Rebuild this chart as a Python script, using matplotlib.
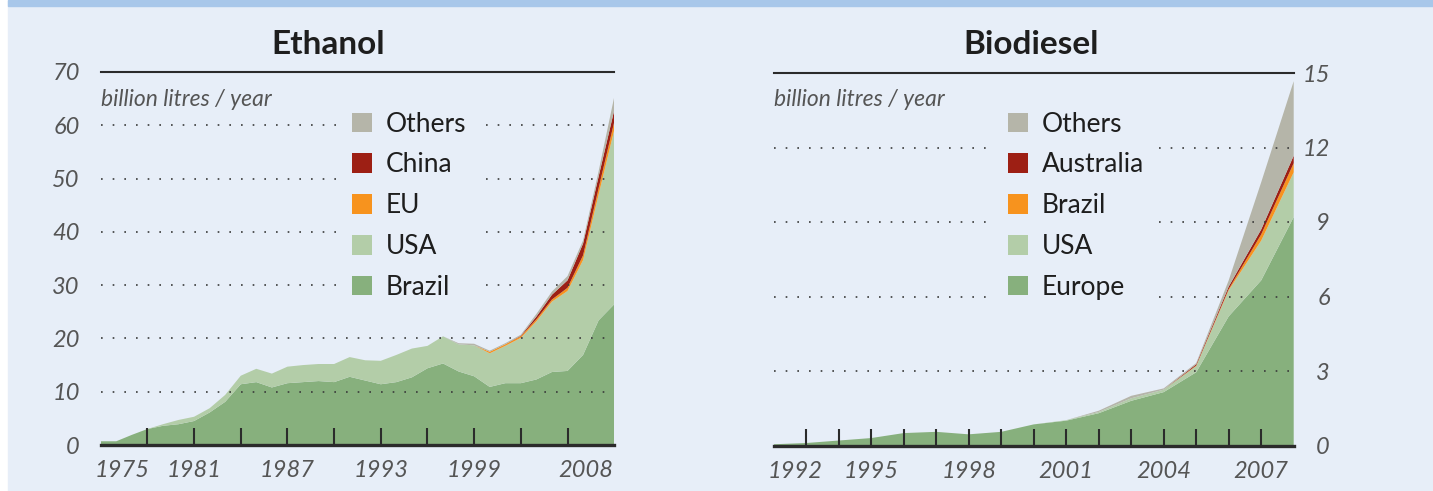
import numpy as np
import matplotlib.pyplot as plt
from matplotlib.patches import Rectangle, Patch

plt.rcParams['font.family'] = ['Lato', 'DejaVu Sans']

# ---- ethanol, billion litres / year ----
eth_years = list(range(1975, 2009))
eth_brazil = [0.7, 0.7, 1.9, 3.0, 3.6, 3.9, 4.5, 6.1, 8.1, 11.4, 11.8, 10.8, 11.6, 11.8, 12.0, 11.8, 12.8,
              12.1, 11.4, 11.8, 12.7, 14.4, 15.3, 13.8, 12.9, 10.9, 11.6, 11.6, 12.3, 13.7, 13.9, 16.9, 23.4, 26.4]
eth_usa = [0, 0, 0, 0, 0.3, 0.8, 0.8, 0.8, 1.3, 1.6, 2.5, 2.6, 3.1, 3.2, 3.2, 3.4, 3.7,
           3.8, 4.4, 5.1, 5.4, 4.2, 5.1, 5.1, 5.8, 6.3, 7.0, 8.5, 10.9, 13.2, 15.0, 17.8, 23.6, 32.7]
eth_eu = [0] * 25 + [0.3, 0.3, 0.3, 0.4, 0.4, 0.6, 0.9, 1.2, 1.5]
eth_china = [0] * 27 + [0.1, 0.5, 0.9, 1.4, 2.2, 2.2, 2.2]
eth_others = [0] * 23 + [0.2, 0.3, 0.2, 0.2, 0.2, 0.5, 0.6, 0.8, 0.6, 1.0, 2.5]
eth_labels = ['Brazil', 'USA', 'EU', 'China', 'Others']

# ---- biodiesel, billion litres / year ----
bio_years = list(range(1992, 2009))
bio_europe = [0.05, 0.1, 0.2, 0.3, 0.5, 0.55, 0.45, 0.55, 0.85, 1.0, 1.3, 1.8, 2.15, 2.95, 5.2, 6.65, 9.2]
bio_usa = [0] * 9 + [0.02, 0.05, 0.1, 0.1, 0.25, 1.05, 1.6, 1.8]
bio_brazil = [0] * 13 + [0.02, 0.05, 0.25, 0.37]
bio_australia = [0] * 13 + [0.05, 0.1, 0.2, 0.3]
bio_others = [0] * 10 + [0.05, 0.1, 0.05, 0.05, 0.25, 1.9, 3.0]
bio_labels = ['Europe', 'USA', 'Brazil', 'Australia', 'Others']

colors = ['#87b07d', '#b3cda8', '#f7931e', '#9d1f14', '#b5b5a9']
bg = '#e7eef8'
dark = '#2b2b2b'
grey_txt = '#555555'

W, H = 1433, 491
fig = plt.figure(figsize=(W / 100, H / 100), dpi=100)
fig.patch.set_facecolor('white')
fig.patches.append(Rectangle((8 / W, 0), 1, 1, transform=fig.transFigure, color=bg, zorder=-10))
fig.patches.append(Rectangle((8 / W, 1 - 6 / H), 1, 6 / H, transform=fig.transFigure,
                             color='#a8c7ea', zorder=-9))


def panel(rect, years, series, labels, ymax, ystep, xticks, xlabels, title, title_x,
          legend_x, right=False):
    ax = fig.add_axes(rect)
    ax.set_facecolor('none')
    ax.stackplot(years, *series, colors=colors, linewidth=0, zorder=1)
    ax.set_xlim(years[0], years[-1])
    ax.set_ylim(0, ymax)

    for s in ['left', 'right']:
        ax.spines[s].set_visible(False)
    ax.spines['bottom'].set_linewidth(2.4)
    ax.spines['bottom'].set_color(dark)
    ax.spines['top'].set_linewidth(1.5)
    ax.spines['top'].set_color(dark)

    # dotted grid above the areas, broken by the legend box
    for v in np.arange(ystep, ymax, ystep):
        ax.axhline(v, color='#3a3a3a', lw=1.2, linestyle=(0, (1, 6)), zorder=2)

    ax.set_xticks(xticks)
    ax.set_xticklabels([])
    ax.tick_params(axis='x', direction='in', length=12.5, width=1.5, color=dark)

    yt = np.arange(0, ymax + 0.1, ystep)
    ax.set_yticks(yt)
    ax.set_yticklabels([f'{v:g}' for v in yt], fontstyle='italic', fontsize=17, color=grey_txt)
    if right:
        ax.yaxis.tick_right()
        ax.tick_params(axis='y', length=0, pad=26)
        for t in ax.get_yticklabels():
            t.set_horizontalalignment('right')
    else:
        ax.tick_params(axis='y', length=0, pad=15)

    # year labels: end labels pinned to the axis ends, the rest centred on ticks
    for yr, lab in xlabels:
        if yr == years[0]:
            ha, dx = 'left', -4.5
        elif yr == years[-1]:
            ha, dx = 'right', -1
        else:
            ha, dx = 'center', 0
        ax.annotate(lab, (yr, 0), xytext=(dx, -11), textcoords='offset points',
                    ha=ha, va='top', fontsize=17, fontstyle='italic', color=grey_txt,
                    annotation_clip=False)

    fig.text(title_x / W, 1 - 44 / H, title, ha='center', va='center', fontsize=24,
             fontweight='bold', color='#1e1e1e')
    fig.text(rect[0], 1 - 99 / H, 'billion litres / year', ha='left', va='center',
             fontsize=16.5, fontstyle='italic', color=grey_txt)

    handles = [Patch(facecolor=c, edgecolor='none') for c in colors][::-1]
    leg = ax.legend(handles, labels[::-1], loc='upper left',
                    bbox_to_anchor=(legend_x / W, 1 - 97 / H), bbox_transform=fig.transFigure,
                    borderaxespad=0, frameon=True, fancybox=False, framealpha=1,
                    facecolor=bg, edgecolor='none', fontsize=19, handlelength=0.76,
                    handleheight=0.76, handletextpad=0.55, labelspacing=0.6, borderpad=0.55)
    for t in leg.get_texts():
        t.set_color('#1e1e1e')
    leg.set_zorder(5)
    return ax


panel([100.7 / W, 46 / H, 513.5 / W, 373 / H], eth_years,
      [eth_brazil, eth_usa, eth_eu, eth_china, eth_others], eth_labels, 70, 10,
      list(range(1978, 2006, 3)),
      [(1975, '1975'), (1981, '1981'), (1987, '1987'), (1993, '1993'), (1999, '1999'),
       (2008, '2008')],
      'Ethanol', 328.5, 337)

panel([773.7 / W, 45.5 / H, 520 / W, 372.5 / H], bio_years,
      [bio_europe, bio_usa, bio_brazil, bio_australia, bio_others], bio_labels, 15, 3,
      list(range(1993, 2008)),
      [(1992, '1992'), (1995, '1995'), (1998, '1998'), (2001, '2001'), (2004, '2004'),
       (2007, '2007')],
      'Biodiesel', 1031, 993, right=True)

fig.savefig('out.png', dpi=100, facecolor=fig.get_facecolor())
